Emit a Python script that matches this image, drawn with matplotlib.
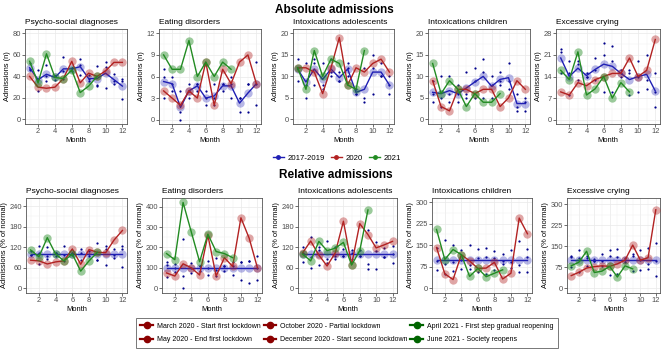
import matplotlib
matplotlib.use("Agg")
import matplotlib.pyplot as plt
from matplotlib.lines import Line2D
from matplotlib.ticker import FixedLocator

plt.rcParams['font.family'] = ['Liberation Sans', 'DejaVu Sans']

W, H = 669, 352
months = list(range(1, 13))
months21 = list(range(1, 10))

titles = ["Psycho-social diagnoses", "Eating disorders", "Intoxications adolescents",
          "Intoxications children", "Excessive crying"]

# ---------------- Absolute admissions ----------------
abs_mean = [
    [48, 37, 42, 39, 47, 47, 49, 38, 38, 43, 37, 31],
    [5.3, 5, 1.7, 4, 4.7, 3, 3.3, 4.7, 4.7, 2.3, 3.7, 5],
    [11.7, 8.7, 11.7, 9.3, 11.7, 9.7, 11.7, 6.3, 7, 11, 11, 8],
    [6.3, 6, 6.7, 6, 7.3, 8.7, 10, 7.7, 9.3, 9.7, 3.7, 3.7],
    [20, 14, 16.7, 14.3, 16.3, 18, 17.3, 15, 13, 14, 14.7, 9.3],
]
abs_2020 = [
    [40, 30, 29, 30, 38, 54, 34, 43, 40, 45, 53, 53],
    [4, 3, 2, 4, 3, 8, 2, 7, 5, 8, 9, 5],
    [12, 12, 11, 6, 12, 19, 8, 12, 11, 13, 14, 11],
    [9, 3, 2, 7, 7, 6, 7, 7, 3, 5, 9, 7],
    [9, 8, 12, 11, 13, 14, 15, 15, 20, 14, 16, 26],
]
abs_2021 = [
    [54, 34, 61, 39, 38, 46, 25, 31, 40],
    [9, 7, 7, 11, 6, 8, 6, 8, 7],
    [12, 7, 16, 10, 14, 13, 8, 7, 16],
    [13, 6, 9, 7, 3, 6, 4, 4, 6],
    [16, 13, 22, 8, 10, 14, 7, 12, 9],
]
abs_years = [
    [[52, 46, 51, 37, 58, 48, 56, 41, 50, 53, 42, 38],
     [46, 26, 36, 40, 45, 45, 41, 36, 32, 49, 33, 36],
     [47, 38, 40, 40, 38, 48, 51, 38, 31, 29, 36, 19]],
    [[7, 6, 4, 5, 5, 4, 5, 5, 6, 3, 5, 8],
     [6, 5, 1, 4, 5, 3, 3, 5, 5, 3, 5, 5],
     [3, 4, 0, 3, 4, 2, 2, 4, 3, 1, 1, 2]],
    [[14, 13, 14, 13, 14, 11, 13, 7, 12, 15, 13, 10],
     [12, 8, 13, 8, 11, 9, 12, 6, 5, 12, 10, 8],
     [9, 5, 8, 7, 10, 9, 10, 6, 4, 6, 10, 6]],
    [[6, 10, 10, 8, 11, 12, 14, 10, 11, 13, 6, 5],
     [9, 5, 6, 6, 6, 9, 11, 8, 9, 9, 3, 4],
     [4, 3, 4, 4, 5, 5, 5, 5, 8, 7, 2, 2]],
    [[23, 19, 19, 14, 20, 25, 24, 16, 15, 19, 21, 15],
     [22, 15, 18, 14, 16, 21, 19, 14, 16, 14, 13, 9],
     [15, 8, 13, 15, 13, 9, 9, 15, 8, 9, 10, 4]],
]

# ---------------- Relative admissions (% of normal) ----------------
rel_mean = [[100] * 12 for _ in range(5)]
rel_2020 = [
    [82, 80, 71, 77, 80, 115, 70, 113, 105, 104, 141, 169],
    [75, 60, 120, 100, 65, 260, 60, 150, 107, 345, 245, 100],
    [103, 138, 97, 65, 103, 196, 69, 189, 157, 118, 127, 137],
    [142, 50, 30, 117, 95, 69, 70, 90, 32, 52, 245, 190],
    [45, 57, 72, 77, 80, 78, 87, 100, 154, 100, 109, 280],
]
rel_2021 = [
    [112, 92, 148, 100, 80, 100, 50, 80, 105],
    [170, 140, 420, 275, 130, 265, 180, 170, 150],
    [100, 80, 137, 110, 117, 134, 68, 110, 229],
    [205, 100, 135, 117, 41, 69, 40, 52, 64],
    [80, 93, 132, 56, 61, 78, 40, 80, 69],
]
rel_years = [
    [[108, 124, 121, 95, 123, 102, 114, 108, 132, 123, 114, 123],
     [96, 70, 85, 103, 96, 96, 84, 95, 84, 114, 89, 116],
     [98, 103, 95, 103, 81, 102, 104, 100, 82, 67, 97, 61]],
    [[131, 120, 240, 125, 107, 133, 150, 107, 129, 129, 136, 160],
     [113, 100, 60, 100, 107, 100, 90, 107, 107, 129, 136, 100],
     [56, 80, 0, 75, 86, 67, 60, 86, 64, 43, 27, 40]],
    [[120, 150, 120, 139, 120, 114, 111, 111, 171, 136, 118, 125],
     [103, 92, 111, 86, 94, 93, 103, 95, 71, 109, 91, 100],
     [77, 58, 69, 75, 86, 93, 86, 95, 57, 55, 91, 75]],
    [[95, 167, 150, 133, 150, 138, 140, 130, 118, 134, 164, 136],
     [142, 83, 90, 100, 82, 104, 110, 104, 96, 93, 82, 109],
     [63, 50, 60, 67, 68, 58, 50, 65, 86, 72, 55, 55]],
    [[115, 136, 114, 98, 122, 136, 139, 107, 115, 136, 143, 161],
     [110, 107, 108, 98, 98, 115, 110, 93, 123, 100, 88, 97],
     [75, 57, 78, 105, 80, 49, 52, 100, 62, 64, 68, 43]],
]

abs_ticks = [[0, 20, 40, 60, 80], [0, 3, 6, 9, 12], [0, 5, 10, 15, 20],
             [0, 5, 10, 15, 20], [0, 7, 14, 21, 28]]
abs_ylim = [(-4.2, 84), (-0.6, 12.6), (-1.05, 21), (-1.05, 21), (-1.4, 29.4)]
rel_ticks = [[0, 60, 120, 180, 240], [0, 100, 200, 300, 400], [0, 60, 120, 180, 240],
             [0, 75, 150, 225, 300], [0, 75, 150, 225, 300]]
rel_ylim = [(-14, 264), (-23, 442), (-14, 264), (-17, 315), (-17, 322)]

event_labels_2020 = ["March 2020 - Start first lockdown", "May 2020 - End first lockdown",
                     "October 2020 - Partial lockdown", "December 2020 - Start second lockdown"]
event_labels_2021 = ["April 2021 - First step gradual reopening", "June 2021 - Society reopens"]

C_BLUE = "#1f1fb4"
C_BLUE_DOT = "#00008B"
C_RED = "#b22222"
C_GREEN = "#228b22"
C_DRED = "#8b0000"
C_DGREEN = "#006400"

top_x = [(25, 127), (159, 261), (293, 394), (428, 530), (556, 660)]
bot_x = [(26, 127), (162, 262), (298, 397), (432, 532), (567, 660)]

fig = plt.figure(figsize=(W / 100, H / 100), dpi=100)

TICK_FS = 5.4
LAB_FS = 5.4


def add_panel(lr, top, bottom, title, mean, y20, y21, years, ticks, ylim, ylabel):
    l, r = lr
    ax = fig.add_axes([l / W, 1 - bottom / H, (r - l) / W, (bottom - top) / H])
    ax.set_xlim(0.45, 12.55)
    ax.set_ylim(*ylim)
    ax.xaxis.set_major_locator(FixedLocator([2, 4, 6, 8, 10, 12]))
    ax.xaxis.set_minor_locator(FixedLocator([1, 3, 5, 7, 9, 11]))
    step = ticks[1] - ticks[0]
    ax.yaxis.set_major_locator(FixedLocator(ticks))
    ax.yaxis.set_minor_locator(FixedLocator([t + step / 2 for t in ticks[:-1]]))
    ax.grid(which='major', color='#EBEBEB', lw=0.55)
    ax.grid(which='minor', color='#F2F2F2', lw=0.35)
    ax.set_axisbelow(True)
    for s in ax.spines.values():
        s.set_color('#555555')
        s.set_linewidth(0.6)
    ax.tick_params(which='major', length=2, width=0.5, color='#333333',
                   labelsize=TICK_FS, labelcolor='#4D4D4D', pad=1)
    ax.tick_params(which='minor', length=0)
    # individual years
    for yr in years:
        ax.plot(months, yr, 'o', ms=1.6, color=C_BLUE_DOT, mec='none', zorder=2)
    # mean
    ax.plot(months, mean, '-', color=C_BLUE, lw=1.0, zorder=3)
    ax.plot(months, mean, 'o', ms=6.0, color=C_BLUE, alpha=0.32, mec='none', zorder=3)
    # 2020
    ax.plot(months, y20, '-', color=C_RED, lw=1.0, zorder=4)
    ax.plot(months, y20, 'o', ms=6.0, color=C_RED, alpha=0.4, mec='none', zorder=4)
    # 2021
    ax.plot(months21, y21, '-', color=C_GREEN, lw=1.0, zorder=5)
    ax.plot(months21, y21, 'o', ms=6.0, color=C_GREEN, alpha=0.45, mec='none', zorder=5)
    ax.set_xlabel("Month", fontsize=LAB_FS, color='black', labelpad=1.5)
    ax.set_ylabel(ylabel, fontsize=LAB_FS, labelpad=1.2)
    ax.set_title(title, fontsize=6.0, loc='left', pad=3.5)
    return ax


for i in range(5):
    add_panel(top_x[i], 29, 124, titles[i], abs_mean[i], abs_2020[i], abs_2021[i],
              abs_years[i], abs_ticks[i], abs_ylim[i], "Admissions (n)")
    add_panel(bot_x[i], 198, 293, titles[i], rel_mean[i], rel_2020[i], rel_2021[i],
              rel_years[i], rel_ticks[i], rel_ylim[i], "Admissions (% of normal)")

fig.text(334 / W, 1 - 10 / H, "Absolute admissions", ha='center', va='center',
         fontsize=8.5, fontweight='bold')
fig.text(336 / W, 1 - 175 / H, "Relative admissions", ha='center', va='center',
         fontsize=8.5, fontweight='bold')

# series legend
series_handles = [
    Line2D([], [], color=C_BLUE, lw=1.0, marker='o', ms=2.5, label="2017-2019"),
    Line2D([], [], color=C_RED, lw=1.0, marker='o', ms=2.5, label="2020"),
    Line2D([], [], color=C_GREEN, lw=1.0, marker='o', ms=2.5, label="2021"),
]
fig.legend(handles=series_handles, loc='center', bbox_to_anchor=(337 / W, 1 - 158 / H),
           ncol=3, frameon=False, fontsize=5.6, handlelength=1.4, handletextpad=0.5,
           columnspacing=0.8)

# events legend
ev_handles = []
for lab in event_labels_2020:
    ev_handles.append(Line2D([], [], color=C_DRED, lw=1.6, marker='o', ms=4.5, label=lab))
for lab in event_labels_2021:
    ev_handles.append(Line2D([], [], color=C_DGREEN, lw=1.6, marker='o', ms=4.5, label=lab))
leg = fig.legend(handles=ev_handles, loc='center', bbox_to_anchor=(347 / W, 1 - 333 / H),
                 ncol=3, frameon=True, fontsize=5.0, handlelength=1.8, handletextpad=0.6,
                 columnspacing=0.4, labelspacing=1.0, borderpad=0.6, fancybox=False)
leg.get_frame().set_edgecolor('#555555')
leg.get_frame().set_linewidth(0.7)

fig.savefig("out.png", dpi=100)
